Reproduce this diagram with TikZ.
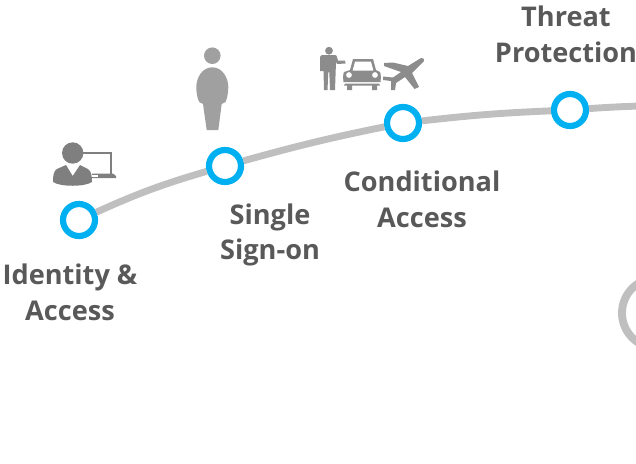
\documentclass[tikz,border=0pt]{standalone}
\usepackage{fontspec}
\setmainfont{Open Sans}
\definecolor{ringblue}{HTML}{00B0F0}
\definecolor{trackgray}{HTML}{BFBFBF}
\definecolor{labelgray}{HTML}{595959}
\definecolor{icondark}{HTML}{7F7F7F}
\definecolor{iconmid}{HTML}{8C8C8C}
\definecolor{iconlight}{HTML}{A0A0A0}
\tikzset{
	stopnode/.style={circle, draw=ringblue, fill=white, line width=4.4pt, inner sep=0pt, minimum size=0.8cm},
	trackline/.style={draw=trackgray, line width=4.9pt},
	steplabel/.style={text=labelgray, align=center, font=\fontsize{19.3}{25.5}\selectfont\bfseries},
}
\begin{document}
\begin{tikzpicture}[x=0.025cm,y=-0.025cm]
	\path [use as bounding box, clip] (0,0) rectangle (636,463);
	% Define the stops on the curve
	\node [stopnode] (identity) at (79,220) {};
	\node [stopnode] (signon) at (225,166) {};
	\node [stopnode] (conditional) at (403,123) {};
	\node [stopnode] (threat) at (570,110) {};
	\coordinate (trackend) at (640,106);
	% Draw the curve
	\draw [trackline] (identity) to [bend left=4] (signon);
	\draw [trackline] (signon) to [bend left=2] (conditional);
	\draw [trackline] (conditional) to [bend left=2] (threat);
	\draw [trackline] (threat) to [bend left=1] (trackend);
	% Ring cut off by the right edge
	\node [circle, draw=trackgray, line width=5.6pt, inner sep=0pt, minimum size=1.75cm] (loop) at (657,313) {};
	% Labels
	\node [steplabel] (identitytext) at (70,292) {Identity \&\\Access};
	\node [steplabel] (signontext) at (270,235) {Single\\Sign-on};
	\node [steplabel] (conditionaltext) at (422,199) {Conditional\\Access};
	\node [steplabel] (threattext) at (566,34) {Threat\\Protection};
	% Person with laptop
	\fill [icondark] (72.7,153) circle (10.7);
	\draw [icondark, line width=1.8pt] (83,153) -- (111,153) -- (111,174);
	\fill [icondark] (92,173.5) -- (113,173.5) -- (116,176) -- (116,178) -- (92,178) -- cycle;
	\fill [white] (92,175.3) rectangle (98,177);
	\fill [icondark] (53,182) .. controls (53,174) and (54,171) .. (57,169) -- (66,165) -- (72.7,176) -- (80,165) -- (88,169) .. controls (91,171) and (92,175) .. (92,182) .. controls (85,187) and (60,187) .. (53,182) -- cycle;
	% Standing person
	\fill [iconlight] (212.3,55.7) circle (8.3);
	\fill [iconlight] (212.3,67.3) .. controls (202,67.3) and (196.3,78) .. (196.3,87) .. controls (196.3,93) and (197.5,99) .. (199.3,102) -- (203,104) -- (206.7,130) -- (218.3,130) -- (221.7,104) -- (225.5,102) .. controls (227,99) and (228.3,93) .. (228.3,87) .. controls (228.3,78) and (222.5,67.3) .. (212.3,67.3) -- cycle;
	% Man, car and plane
	\fill [iconmid] (329,50.7) circle (3.9);
	\fill [iconmid] (320,57) .. controls (320,55.5) and (322,55) .. (323,55) -- (335,55) .. controls (336,55) and (337,56) .. (337,57) -- (338,60.5) -- (345,60.5) -- (345.5,63.5) -- (337,64) -- (336,62) -- (335,90) -- (330,90) -- (329.3,72) -- (328.3,72) -- (327.5,90) -- (324,90) -- (323.5,71) -- (320,71) -- cycle;
	\fill [iconmid, even odd rule] (353,59) -- (373,59) -- (376,70) -- (380,72) .. controls (381,74) and (381,78) .. (380.5,82) -- (343.5,82) .. controls (343,78) and (343,74) .. (344,72) -- (350,70) -- cycle
		(355,61.5) -- (371,61.5) -- (373.5,70.5) -- (352.5,70.5) -- cycle
		(349,75) circle (3) (375,75) circle (3);
	\fill [iconmid] (345,83.5) -- (379,83.5) -- (380,85.5) -- (377,85.5) -- (377,90) -- (372,90) -- (372,85.5) -- (352,85.5) -- (352,90) -- (347,90) -- (347,85.5) -- (344,85.5) -- cycle;
	\fill [iconmid] (421,58) .. controls (423,57.5) and (425,59) .. (424,61) -- (412,73) -- (419,87) -- (414.5,89) -- (405,77) -- (396,83) -- (395,90) -- (391,90) -- (391,81) -- (383,80) -- (383,76.5) -- (393,77.5) -- (401,72) -- (384,66) -- (384,63) -- (393,62.5) -- (408,66) -- cycle;
\end{tikzpicture}
\end{document}
